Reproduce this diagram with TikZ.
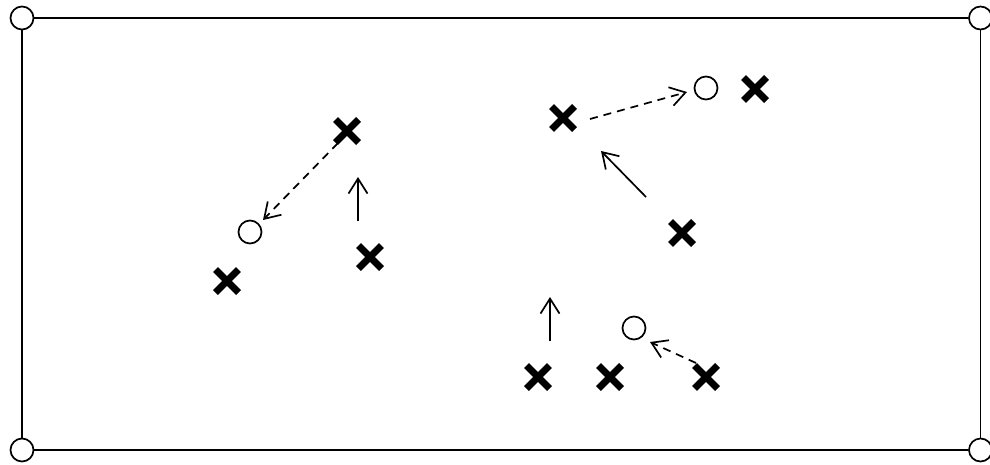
\documentclass[tikz,border=0pt]{standalone}
\usetikzlibrary{arrows.meta,shapes.misc}
\begin{document}
\begin{tikzpicture}[x=1pt,y=-1pt,
  player/.style={cross out,draw,line width=7pt,minimum size=23pt,inner sep=0pt,outer sep=0pt},
  spot/.style={circle,draw,line width=1.7pt,minimum size=23pt,inner sep=0pt},
  corner/.style={circle,draw,line width=1.7pt,minimum size=23pt,inner sep=0pt,fill=white},
  field/.style={line width=1.9pt},
  tip/.style={-{Straight Barb[length=15pt,width=19pt,line width=1.7pt]}},
  move/.style={tip,line width=1.7pt},
  pass/.style={tip,line width=1.7pt,dash pattern=on 8pt off 6pt}]
\useasboundingbox (0,0) rectangle (990,464);
% field corners and boundary
\node[corner] (tl) at (22,18) {};
\node[corner] (tr) at (980.5,18) {};
\node[corner] (bl) at (22,450) {};
\node[corner] (br) at (980.5,450) {};
\draw[field] (tl) -- (tr) -- (br) -- (bl) -- (tl);
% players
\node[player] (p1) at (347,131) {};
\node[player] (p2) at (370,257) {};
\node[player] (p3) at (227,281) {};
\node[player] (p4) at (563,118) {};
\node[player] (p5) at (755,89) {};
\node[player] (p6) at (682,233) {};
\node[player] (p7) at (538,377) {};
\node[player] (p8) at (610,377) {};
\node[player] (p9) at (706,377) {};
% target spots
\node[spot] (s1) at (250,232) {};
\node[spot] (s2) at (706,88) {};
\node[spot] (s3) at (634,328) {};
% passes
\draw[pass] ([shift={(-9,12)}]p1.center) -- ([shift={(13,-12)}]s1.center);
\draw[pass] ([shift={(27,1)}]p4.center) -- ([shift={(-19,4)}]s2.center);
\draw[pass] ([shift={(-10,-14)}]p9.center) -- ([shift={(16,14)}]s3.center);
% runs
\coordinate (r1a) at (358,221);
\coordinate (r1b) at (358,177);
\coordinate (r2a) at (646,197);
\coordinate (r2b) at (601,151);
\coordinate (r3a) at (550,341);
\coordinate (r3b) at (550,297);
\draw[move] (r1a) -- (r1b);
\draw[move] (r2a) -- (r2b);
\draw[move] (r3a) -- (r3b);
\end{tikzpicture}
\end{document}
